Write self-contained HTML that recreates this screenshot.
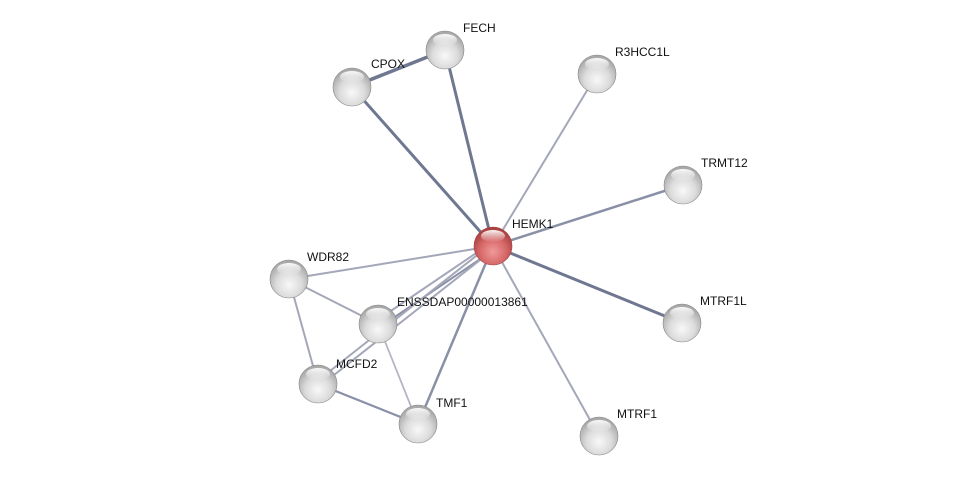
<!DOCTYPE html>
<html><head><meta charset="utf-8"><style>html,body{margin:0;padding:0;background:#fff}svg{display:block}text{font-family:"Liberation Sans",sans-serif;font-size:12px;fill:#111}</style></head>
<body>
<svg width="976" height="482" viewBox="0 0 976 482">
<defs>
<radialGradient id="g" cx="50%" cy="65%" r="60%">
<stop offset="0" stop-color="#f8f8f8"/><stop offset="0.55" stop-color="#dcdcdc"/><stop offset="1" stop-color="#a8a8a8"/></radialGradient>
<radialGradient id="r" cx="50%" cy="65%" r="60%">
<stop offset="0" stop-color="#f09a9a"/><stop offset="0.55" stop-color="#d86a6a"/><stop offset="1" stop-color="#aa4040"/></radialGradient>
<linearGradient id="h" x1="0" y1="0" x2="0" y2="1"><stop offset="0" stop-color="#fff" stop-opacity="0.95"/><stop offset="1" stop-color="#fff" stop-opacity="0"/></linearGradient>
</defs>
<g stroke-linecap="round" fill="none">
<line x1="493" y1="246" x2="445" y2="50" stroke="#6f7890" stroke-width="3"/>
<line x1="493" y1="246" x2="352" y2="87" stroke="#6f7890" stroke-width="3"/>
<line x1="445" y1="50" x2="352" y2="87" stroke="#6f7890" stroke-width="3.5"/>
<line x1="493" y1="246" x2="597" y2="74" stroke="#a3a7b8" stroke-width="2"/>
<line x1="493" y1="246" x2="683" y2="185" stroke="#8a90a6" stroke-width="2.5"/>
<line x1="493" y1="246" x2="682" y2="323" stroke="#6f7890" stroke-width="3"/>
<line x1="493" y1="246" x2="599" y2="436" stroke="#a3a7b8" stroke-width="2"/>
<line x1="493" y1="246" x2="289" y2="279" stroke="#a3a7b8" stroke-width="2"/>
<line x1="493" y1="246" x2="418" y2="424" stroke="#8a90a6" stroke-width="2.5"/>
<line x1="491" y1="243" x2="376" y2="321" stroke="#a3a7b8" stroke-width="2"/>
<line x1="495" y1="249" x2="380" y2="327" stroke="#8a90a6" stroke-width="2"/>
<line x1="490" y1="245" x2="316" y2="382" stroke="#a3a7b8" stroke-width="2"/>
<line x1="494" y1="249" x2="320" y2="386" stroke="#a3a7b8" stroke-width="2"/>
<line x1="289" y1="279" x2="378" y2="324" stroke="#a3a7b8" stroke-width="2"/>
<line x1="289" y1="279" x2="318" y2="384" stroke="#a3a7b8" stroke-width="2"/>
<line x1="378" y1="324" x2="418" y2="424" stroke="#b3b6c4" stroke-width="1.8"/>
<line x1="318" y1="384" x2="418" y2="424" stroke="#8a90a6" stroke-width="2.2"/>
</g>
<g stroke="#888" stroke-width="0.6">
<circle cx="445" cy="50" r="19" fill="url(#g)"/>
<circle cx="352" cy="87" r="19" fill="url(#g)"/>
<circle cx="597" cy="74" r="19" fill="url(#g)"/>
<circle cx="683" cy="185" r="19" fill="url(#g)"/>
<circle cx="289" cy="279" r="19" fill="url(#g)"/>
<circle cx="378" cy="324" r="19" fill="url(#g)"/>
<circle cx="318" cy="384" r="19" fill="url(#g)"/>
<circle cx="418" cy="424" r="19" fill="url(#g)"/>
<circle cx="682" cy="323" r="19" fill="url(#g)"/>
<circle cx="599" cy="436" r="19" fill="url(#g)"/>
<circle cx="493" cy="246" r="19" fill="url(#r)" stroke="#a04545"/>
</g>
<g fill="url(#h)">
<ellipse cx="445" cy="40" rx="12" ry="6"/><ellipse cx="352" cy="77" rx="12" ry="6"/><ellipse cx="597" cy="64" rx="12" ry="6"/><ellipse cx="683" cy="175" rx="12" ry="6"/><ellipse cx="289" cy="269" rx="12" ry="6"/><ellipse cx="378" cy="314" rx="12" ry="6"/><ellipse cx="318" cy="374" rx="12" ry="6"/><ellipse cx="418" cy="414" rx="12" ry="6"/><ellipse cx="682" cy="313" rx="12" ry="6"/><ellipse cx="599" cy="426" rx="12" ry="6"/><ellipse cx="493" cy="236" rx="12" ry="6"/>
</g>
<text x="463" y="32">FECH</text>
<text x="371" y="68">CPOX</text>
<text x="615" y="56">R3HCC1L</text>
<text x="701" y="167">TRMT12</text>
<text x="512" y="228">HEMK1</text>
<text x="307" y="261">WDR82</text>
<text x="397" y="306">ENSSDAP00000013861</text>
<text x="336" y="368">MCFD2</text>
<text x="436" y="407">TMF1</text>
<text x="700" y="305">MTRF1L</text>
<text x="617" y="418">MTRF1</text>
</svg>
</body></html>
